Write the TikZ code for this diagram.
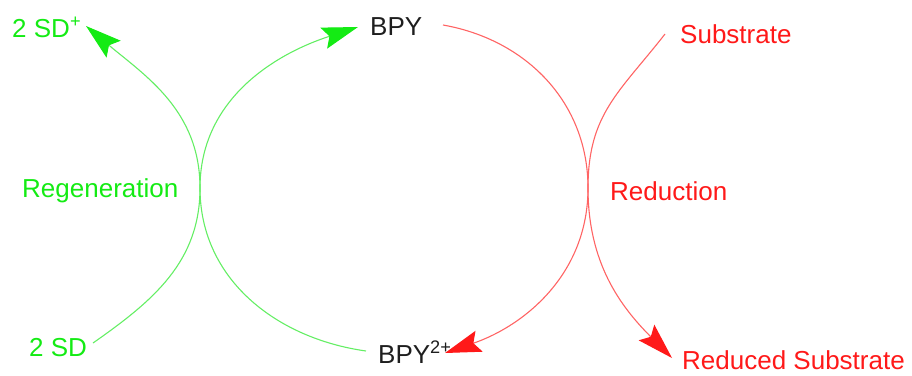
\documentclass[tikz,border=0pt]{standalone}
\usepackage{fontspec}
\setmainfont{Liberation Sans}
\usetikzlibrary{arrows.meta}
\definecolor{gtext}{RGB}{20,235,20}
\definecolor{gline}{RGB}{100,238,100}
\definecolor{rtext}{RGB}{255,25,25}
\definecolor{rline}{RGB}{255,100,100}
\definecolor{btext}{RGB}{30,30,30}
\begin{document}
\begin{tikzpicture}[x=1pt,y=1pt,
  lbl/.style={anchor=base west,inner sep=0pt,font=\fontsize{26}{30}\selectfont},
  gl/.style={lbl,text=gtext},
  rl/.style={lbl,text=rtext},
  bl/.style={lbl,text=btext},
  garrow/.style={draw=gline,line width=1.1pt,-{Stealth[length=36pt,width=22pt,inset=6pt,color=gtext]}},
  rarrow/.style={draw=rline,line width=1.1pt,-{Stealth[length=36pt,width=22pt,inset=6pt,color=rtext]}}]
\useasboundingbox (0,0) rectangle (912,-375);
% labels
\node[gl] (sdp) at (12,-37) {2 SD\textsuperscript{+}};
\node[bl] (bpy) at (370,-35) {BPY};
\node[rl] (sub) at (680,-43) {Substrate};
\node[gl] (regen) at (22,-197) {Regeneration};
\node[rl] (red) at (610,-200) {Reduction};
\node[gl] (sd) at (29,-356) {2 SD};
\node[bl] (bpy2) at (378,-363) {BPY\textsuperscript{2+}};
\node[rl] (rsub) at (682,-369) {Reduced Substrate};
% connector ends
\coordinate (sdS) at (93,-343);
\coordinate (sdpT) at (86,-26);
\coordinate (gx) at (200,-188);
\coordinate (rx) at (588,-188);
\coordinate (bpy2S) at (366,-351);
\coordinate (bpyT) at (358,-27);
\coordinate (bpyS) at (443,-25);
\coordinate (bpy2T) at (445,-353);
\coordinate (subS) at (665,-34);
\coordinate (rsubT) at (672,-358);
% green
\draw[garrow] (sdS) to[out=35,in=-90] (gx) to[out=90,in=-40] (sdpT);
\draw[garrow] (bpy2S) to[out=172,in=-90] (gx) to[out=90,in=198] (bpyT);
% red
\draw[rarrow] (bpyS) to[out=-10,in=90] (rx) to[out=-90,in=19] (bpy2T);
\draw[rarrow] (subS) to[out=232,in=90,looseness=1.1] (rx) to[out=-90,in=135] (rsubT);
\end{tikzpicture}
\end{document}
